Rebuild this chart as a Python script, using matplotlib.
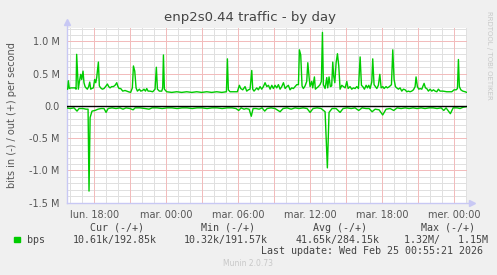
import matplotlib
matplotlib.use("Agg")
import matplotlib.pyplot as plt
import numpy as np

# ---- data (hours since Monday 00:00, values in Mbit/s) ----
out_hours = [15.70, 15.78, 15.84, 15.92, 16.03, 16.20, 16.39, 16.48, 16.53, 16.67, 16.76, 16.87, 16.95,
             17.06, 17.14, 17.23, 17.31, 17.42, 17.53, 17.62, 17.70, 17.78, 17.92, 18.03, 18.12, 18.20,
             18.34, 18.42, 18.53, 18.67, 18.81, 18.98, 19.09, 19.20, 19.31, 19.45, 19.59, 19.73, 19.87,
             19.95, 20.06, 20.20, 20.37, 20.56, 20.84, 21.03, 21.17, 21.26, 21.37, 21.48, 21.59, 21.76,
             21.87, 22.03, 22.14, 22.26, 22.37, 22.48, 22.64, 22.87, 23.06, 23.17, 23.26, 23.42, 23.62,
             23.70, 23.76, 23.84, 24.03, 24.45, 24.87, 25.28, 25.70, 26.12, 26.53, 26.95, 27.37, 27.78,
             28.20, 28.62, 29.01, 29.09, 29.17, 29.31, 29.59, 29.92, 30.09, 30.20, 30.37, 30.56, 30.70,
             30.84, 30.98, 31.12, 31.20, 31.31, 31.54, 31.67, 31.81, 31.95, 32.09, 32.23, 32.37, 32.51,
             32.65, 32.79, 32.92, 33.06, 33.20, 33.34, 33.48, 33.62, 33.76, 33.90, 34.04, 34.17, 34.31,
             34.45, 34.59, 34.73, 34.87, 35.01, 35.09, 35.20, 35.31, 35.42, 35.56, 35.70, 35.79, 35.90,
             35.98, 36.12, 36.20, 36.34, 36.42, 36.54, 36.67, 36.81, 36.92, 37.01, 37.09, 37.23, 37.37,
             37.45, 37.56, 37.67, 37.78, 37.87, 37.95, 38.04, 38.15, 38.26, 38.37, 38.48, 38.62, 38.76,
             38.90, 39.04, 39.15, 39.31, 39.45, 39.59, 39.73, 39.87, 40.01, 40.15, 40.26, 40.37, 40.51,
             40.65, 40.76, 40.87, 40.98, 41.12, 41.20, 41.31, 41.42, 41.54, 41.67, 41.79, 41.90, 42.04,
             42.15, 42.31, 42.42, 42.59, 42.76, 42.87, 42.98, 43.09, 43.20, 43.34, 43.48, 43.62, 43.76,
             43.90, 44.04, 44.17, 44.31, 44.45, 44.59, 44.73, 44.81, 44.92, 45.04, 45.15, 45.29, 45.37,
             45.48, 45.59, 45.70, 45.84, 45.98, 46.12, 46.26, 46.40, 46.54, 46.67, 46.81, 47.04, 47.37,
             47.79, 47.98, 48.15, 48.26, 48.34, 48.42, 48.54, 48.70, 48.90, 49.03]
out_values = [0.26, 0.26, 0.39, 0.27, 0.28, 0.28, 0.28, 0.26, 0.80, 0.26, 0.38, 0.49, 0.41,
              0.54, 0.36, 0.30, 0.28, 0.26, 0.30, 0.37, 0.26, 0.27, 0.28, 0.41, 0.36, 0.44,
              0.68, 0.31, 0.28, 0.26, 0.27, 0.31, 0.34, 0.30, 0.28, 0.30, 0.30, 0.32, 0.36,
              0.31, 0.27, 0.27, 0.23, 0.24, 0.22, 0.21, 0.28, 0.62, 0.54, 0.28, 0.23, 0.26,
              0.23, 0.24, 0.26, 0.23, 0.27, 0.23, 0.23, 0.22, 0.26, 0.60, 0.26, 0.23, 0.23,
              0.28, 0.79, 0.26, 0.22, 0.21, 0.22, 0.21, 0.22, 0.21, 0.22, 0.21, 0.22, 0.21,
              0.22, 0.21, 0.22, 0.73, 0.25, 0.22, 0.22, 0.22, 0.32, 0.27, 0.25, 0.30, 0.23,
              0.25, 0.26, 0.55, 0.26, 0.23, 0.28, 0.25, 0.30, 0.26, 0.30, 0.36, 0.30, 0.32,
              0.26, 0.32, 0.27, 0.32, 0.28, 0.33, 0.26, 0.30, 0.36, 0.27, 0.30, 0.32, 0.25,
              0.28, 0.27, 0.30, 0.33, 0.33, 0.87, 0.79, 0.31, 0.27, 0.31, 0.38, 0.67, 0.44,
              0.30, 0.38, 0.28, 0.45, 0.26, 0.28, 0.30, 0.33, 0.38, 1.14, 0.33, 0.27, 0.44,
              0.28, 0.45, 0.30, 0.31, 0.68, 0.46, 0.36, 0.67, 0.81, 0.62, 0.26, 0.32, 0.30,
              0.28, 0.38, 0.27, 0.30, 0.26, 0.28, 0.27, 0.30, 0.27, 0.76, 0.32, 0.30, 0.26,
              0.32, 0.28, 0.32, 0.27, 0.37, 0.73, 0.33, 0.30, 0.27, 0.32, 0.49, 0.28, 0.30,
              0.27, 0.30, 0.28, 0.30, 0.33, 0.87, 0.41, 0.30, 0.28, 0.26, 0.28, 0.23, 0.26,
              0.25, 0.22, 0.23, 0.22, 0.23, 0.25, 0.30, 0.45, 0.30, 0.26, 0.27, 0.26, 0.30,
              0.35, 0.28, 0.27, 0.23, 0.26, 0.23, 0.25, 0.23, 0.22, 0.26, 0.23, 0.23, 0.22,
              0.22, 0.25, 0.25, 0.27, 0.72, 0.30, 0.25, 0.23, 0.22, 0.21]

in_hours = [15.70, 15.98, 16.31, 16.56, 16.73, 17.06, 17.31, 17.48, 17.56, 17.65, 17.81, 18.06, 18.31,
            18.56, 18.81, 18.98, 19.15, 19.48, 19.81, 20.14, 20.39, 20.64, 20.98, 21.23, 21.40, 21.81,
            22.23, 22.56, 22.81, 23.23, 23.65, 24.06, 24.48, 24.90, 25.31, 25.73, 26.15, 26.56, 26.98,
            27.40, 27.81, 28.23, 28.65, 29.06, 29.48, 29.81, 30.03, 30.23, 30.48, 30.65, 30.90, 31.08,
            31.23, 31.48, 31.73, 31.98, 32.20, 32.40, 32.73, 33.06, 33.48, 33.73, 34.06, 34.40, 34.73,
            35.06, 35.40, 35.73, 35.98, 36.23, 36.56, 36.90, 37.23, 37.42, 37.56, 37.81, 38.15, 38.48,
            38.73, 39.06, 39.40, 39.73, 40.03, 40.31, 40.65, 40.90, 41.15, 41.40, 41.73, 42.03, 42.31,
            42.65, 42.95, 43.23, 43.56, 43.90, 44.23, 44.56, 44.90, 45.23, 45.56, 45.90, 46.23, 46.56,
            46.90, 47.12, 47.31, 47.67, 47.90, 48.23, 48.48, 48.73, 49.03]
in_values = [0.03, 0.04, 0.03, 0.08, 0.04, 0.04, 0.05, 0.05, 1.32, 0.18, 0.08, 0.07, 0.05,
             0.04, 0.04, 0.10, 0.04, 0.03, 0.04, 0.03, 0.05, 0.03, 0.04, 0.06, 0.03, 0.03,
             0.04, 0.05, 0.03, 0.03, 0.04, 0.03, 0.03, 0.04, 0.03, 0.03, 0.04, 0.03, 0.03,
             0.04, 0.03, 0.03, 0.04, 0.03, 0.03, 0.04, 0.07, 0.03, 0.05, 0.04, 0.05, 0.16,
             0.04, 0.04, 0.05, 0.03, 0.08, 0.04, 0.03, 0.04, 0.09, 0.04, 0.03, 0.05, 0.03,
             0.04, 0.03, 0.04, 0.10, 0.04, 0.03, 0.04, 0.09, 0.96, 0.10, 0.04, 0.04, 0.10,
             0.04, 0.03, 0.04, 0.03, 0.07, 0.03, 0.04, 0.04, 0.09, 0.05, 0.06, 0.14, 0.05,
             0.04, 0.07, 0.03, 0.04, 0.03, 0.04, 0.03, 0.04, 0.03, 0.04, 0.03, 0.03, 0.04,
             0.03, 0.07, 0.03, 0.12, 0.03, 0.03, 0.04, 0.02, 0.01]

tick_hours = [18, 24, 30, 36, 42, 48]
tick_labels = ["lun. 18:00", "mar. 00:00", "mar. 06:00", "mar. 12:00", "mar. 18:00", "mer. 00:00"]
ytick_vals = [-1.5, -1.0, -0.5, 0.0, 0.5, 1.0]
ytick_labels = ["-1.5 M", "-1.0 M", "-0.5 M", "0.0", "0.5 M", "1.0 M"]

title = "enp2s0.44 traffic - by day"
ylabel = "bits in (-) / out (+) per second"
legend_name = "bps"
stat_heads = ["Cur (-/+)", "Min (-/+)", "Avg (-/+)", "Max (-/+)"]
stat_vals = ["10.61k/192.85k", "10.32k/191.57k", "41.65k/284.15k", "1.32M/   1.15M"]
last_update = "Last update: Wed Feb 25 00:55:21 2026"

# ---- figure ----
W, H = 497, 275
fig = plt.figure(figsize=(W / 100, H / 100), dpi=100, facecolor="#F0F0F0")
x0, x1, ytop, ybot = 66.7, 466.7, 27.7, 202.7
ax = fig.add_axes([x0 / W, 1 - ybot / H, (x1 - x0) / W, (ybot - ytop) / H])
ax.set_facecolor("white")

xmin, xmax = 15.70, 49.03
ymin, ymax = -1.5, 1.213
ax.set_xlim(xmin, xmax)
ax.set_ylim(ymin, ymax)

# grid (munin draws 1px dotted lines; rendered here as light thin lines)
lw_grid = 0.72
minor_c = "#E0E0E0"
major_c = "#F2BCBC"
for h in np.arange(16, 49.5, 1):
    col = major_c if h % 3 == 0 else minor_c
    ax.axvline(h, color=col, lw=lw_grid, zorder=1 if col == minor_c else 1.5, antialiased=False)
for k in range(-15, 13):
    vr = k / 10
    col = major_c if k % 5 == 0 else minor_c
    ax.axhline(vr, color=col, lw=lw_grid, zorder=1 if col == minor_c else 1.5, antialiased=False)

green = "#00CC00"
ax.plot(out_hours, out_values, color=green, lw=1.0, zorder=3)
ax.plot(in_hours, [-v for v in in_values], color=green, lw=1.0, zorder=3)
ax.axhline(0, color="black", lw=1.0, zorder=4)

for s in ax.spines.values():
    s.set_visible(False)
axis_c = "#C8C8F4"
ax.plot([0, 0], [0, 1.03], transform=ax.transAxes, color=axis_c, lw=1.0, clip_on=False, zorder=2)
ax.plot([0, 1.012], [0, 0], transform=ax.transAxes, color=axis_c, lw=1.0, clip_on=False, zorder=2)
ax.plot([0], [1.035], transform=ax.transAxes, marker="^", ms=4.5, color=axis_c, mec=axis_c,
        clip_on=False, zorder=2)
ax.plot([1.014], [0], transform=ax.transAxes, marker=">", ms=4.5, color=axis_c, mec=axis_c,
        clip_on=False, zorder=2)

ax.set_xticks(tick_hours)
ax.set_xticklabels(tick_labels)
ax.set_yticks(ytick_vals)
ax.set_yticklabels(ytick_labels)
ax.tick_params(axis="both", length=0, labelsize=7, labelcolor="#555555")
ax.tick_params(axis="x", pad=5)
ax.tick_params(axis="y", pad=5)

def ft(x, y, s, **kw):
    fig.text(x / W, 1 - y / H, s, **kw)

ft(250, 18, title, ha="center", va="center", fontsize=9.5, color="#444444")
ft(12, 115, ylabel, ha="center", va="center", rotation=90, fontsize=7, color="#555555")
ft(489, 55, "RRDTOOL / TOBI OETIKER", ha="center", va="center", rotation=270, fontsize=5,
   color="#C8C8C8")

mono = "DejaVu Sans Mono"
fig.patches.append(plt.Rectangle((14 / W, 1 - 242 / H), 5.5 / W, 5.5 / H, transform=fig.transFigure,
                                 facecolor=green, edgecolor=green))
ft(27, 240, legend_name, ha="left", va="center", fontsize=7.2, family=mono, color="#444444")
centers = [115, 226, 338, 446]
for c, hd, vl in zip(centers, stat_heads, stat_vals):
    ft(c + 2, 228, hd, ha="center", va="center", fontsize=7.2, family=mono, color="#444444")
    ft(c, 240, vl, ha="center", va="center", fontsize=7.2, family=mono, color="#444444")
ft(483, 251.5, last_update, ha="right", va="center", fontsize=7.2, family=mono, color="#444444")
ft(248, 264, "Munin 2.0.73", ha="center", va="center", fontsize=5.5, color="#C8C8C8")

fig.savefig("out.png", dpi=100, facecolor=fig.get_facecolor())
